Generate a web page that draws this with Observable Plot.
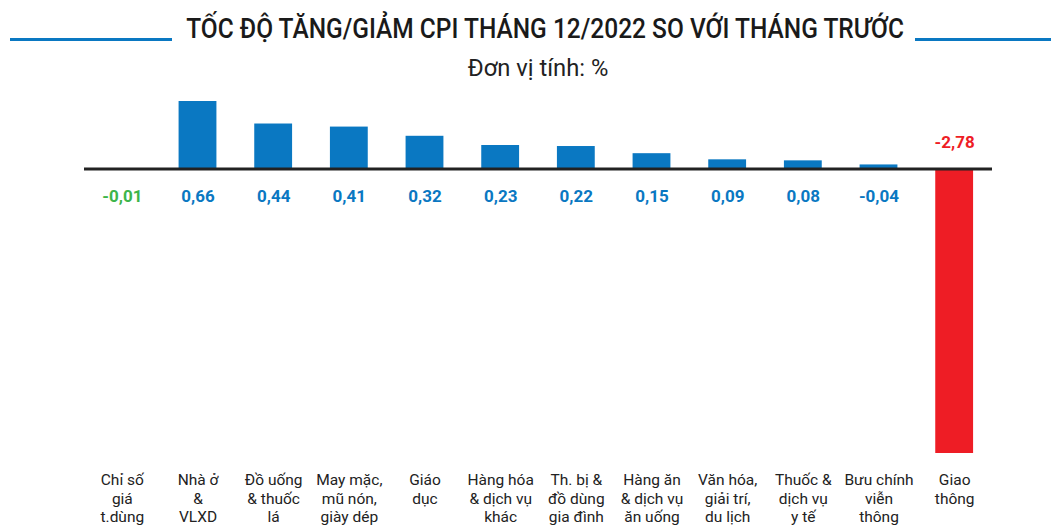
<!DOCTYPE html>
<html>
<head>
<meta charset="utf-8">
<script src="https://cdn.jsdelivr.net/npm/d3@7"></script>
<script src="https://cdn.jsdelivr.net/npm/@observablehq/plot@0.6"></script>
<style>
  html, body { margin: 0; padding: 0; background: #fff; width: 1054px; height: 528px; overflow: hidden; font-family: Roboto, "Noto Sans", sans-serif; }
  #head { position: relative; height: 90px; width: 1054px; }
  .line { position: absolute; height: 3px; background: #0a78c2; top: 38px; }
  #title { position: absolute; left: 0; width: 1054px; top: 12px; text-align: center; white-space: nowrap; }
  #title span { display: inline-block; font-size: 28px; font-weight: 500; color: #1a1a1a; transform: scaleX(0.875); transform-origin: center; margin-left: 36px; }
  #sub { position: absolute; left: 0; width: 1054px; top: 54px; text-align: center; }
  #sub span { display: inline-block; font-size: 24px; color: #222; transform: scaleX(0.99); margin-left: 22px; }
</style>
</head>
<body>
<div id="head">
  <div class="line" style="left:10px;width:162px"></div>
  <div class="line" style="left:915px;width:136px"></div>
  <div id="title"><span>TỐC ĐỘ TĂNG/GIẢM CPI THÁNG 12/2022 SO VỚI THÁNG TRƯỚC</span></div>
  <div id="sub"><span>Đơn vị tính: %</span></div>
</div>
<div id="chart"></div>
<script>
const categories = [
  "Chỉ số\ngiá\nt.dùng",
  "Nhà ở\n&\nVLXD",
  "Đồ uống\n& thuốc\nlá",
  "May mặc,\nmũ nón,\ngiày dép",
  "Giáo\ndục",
  "Hàng hóa\n& dịch vụ\nkhác",
  "Th. bị &\nđồ dùng\ngia đình",
  "Hàng ăn\n& dịch vụ\năn uống",
  "Văn hóa,\ngiải trí,\ndu lịch",
  "Thuốc &\ndịch vụ\ny tế",
  "Bưu chính\nviễn\nthông",
  "Giao\nthông"
];
// values printed on the chart
const values = [-0.01, 0.66, 0.44, 0.41, 0.32, 0.23, 0.22, 0.15, 0.09, 0.08, -0.04, -2.78];
// bar heights as drawn in the picture
const barValues = [-0.01, 0.66, 0.44, 0.41, 0.32, 0.23, 0.22, 0.15, 0.09, 0.08, 0.04, -2.78];
const valueLabels = ["-0,01", "0,66", "0,44", "0,41", "0,32", "0,23", "0,22", "0,15", "0,09", "0,08", "-0,04", "-2,78"];

const data = categories.map((c, i) => ({
  cat: c, value: values[i], bar: barValues[i], label: valueLabels[i], i
}));
const blue = "#0a78c2", red = "#ee1d25", green = "#3db54a";
const labelColor = d => d.i === 0 ? green : (d.i === categories.length - 1 ? red : blue);
const above = data.filter(d => d.value < -1);
const below = data.filter(d => d.value >= -1);

const chart = Plot.plot({
  width: 1054,
  height: 438,
  marginLeft: 84,
  marginRight: 62,
  marginTop: 11,
  marginBottom: 75,
  x: { domain: categories, paddingInner: 0.5, paddingOuter: 0.25, round: false, axis: null },
  y: { domain: [-2.78, 0.66], axis: null },
  style: { fontFamily: "Roboto, sans-serif", background: "#fff", overflow: "visible" },
  marks: [
    Plot.barY(data, { x: "cat", y: "bar", fill: d => d.bar < -1 ? red : blue }),
    Plot.ruleY([0], { stroke: "#222", strokeWidth: 3 }),
    Plot.text(below, { x: "cat", y: 0, text: "label", fill: labelColor, dy: 28, fontSize: 17, fontWeight: "bold", lineAnchor: "middle" }),
    Plot.text(above, { x: "cat", y: 0, text: "label", fill: labelColor, dy: -26, fontSize: 17, fontWeight: "bold", lineAnchor: "middle" }),
    Plot.text(data, { x: "cat", text: "cat", frameAnchor: "bottom", lineAnchor: "top", dy: 19, fontSize: 15.5, fill: "#222", lineHeight: 1.17 })
  ]
});
document.getElementById("chart").appendChild(chart);
</script>
</body>
</html>
